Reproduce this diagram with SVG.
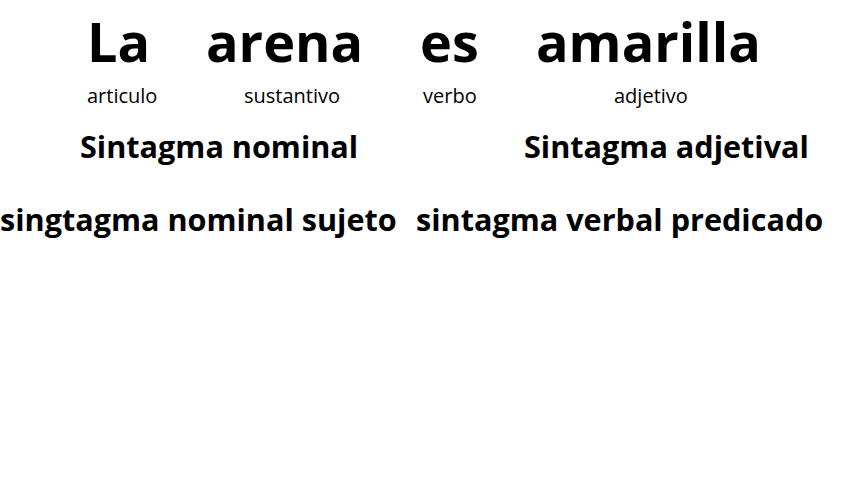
<svg xmlns="http://www.w3.org/2000/svg" width="848" height="477" viewBox="0 0 848 477">
<style>
text{font-family:"Open Sans","Noto Sans",sans-serif;fill:#000}
.big{font-size:54px;font-weight:700}
.lab{font-size:20px;font-weight:400}
.mid{font-size:30.6px;font-weight:700}
</style>
<rect width="848" height="477" fill="#fff"/>
<g id="word-la"><text class="big" x="87" y="62">La</text><text class="lab" x="87" y="103">articulo</text></g>
<g id="word-arena"><text class="big" x="206" y="62">arena</text><text class="lab" x="244" y="103">sustantivo</text></g>
<g id="word-es"><text class="big" x="420" y="62">es</text><text class="lab" x="423" y="103">verbo</text></g>
<g id="word-amarilla"><text class="big" x="536" y="62">amarilla</text><text class="lab" x="614" y="103">adjetivo</text></g>
<g id="sn"><text class="mid" x="80" y="158">Sintagma nominal</text></g>
<g id="sa"><text class="mid" x="524" y="158">Sintagma adjetival</text></g>
<g id="sns"><text class="mid" x="0" y="231">singtagma nominal sujeto</text></g>
<g id="svp"><text class="mid" x="416" y="231">sintagma verbal predicado</text></g>
<g id="connectors"></g>
</svg>
